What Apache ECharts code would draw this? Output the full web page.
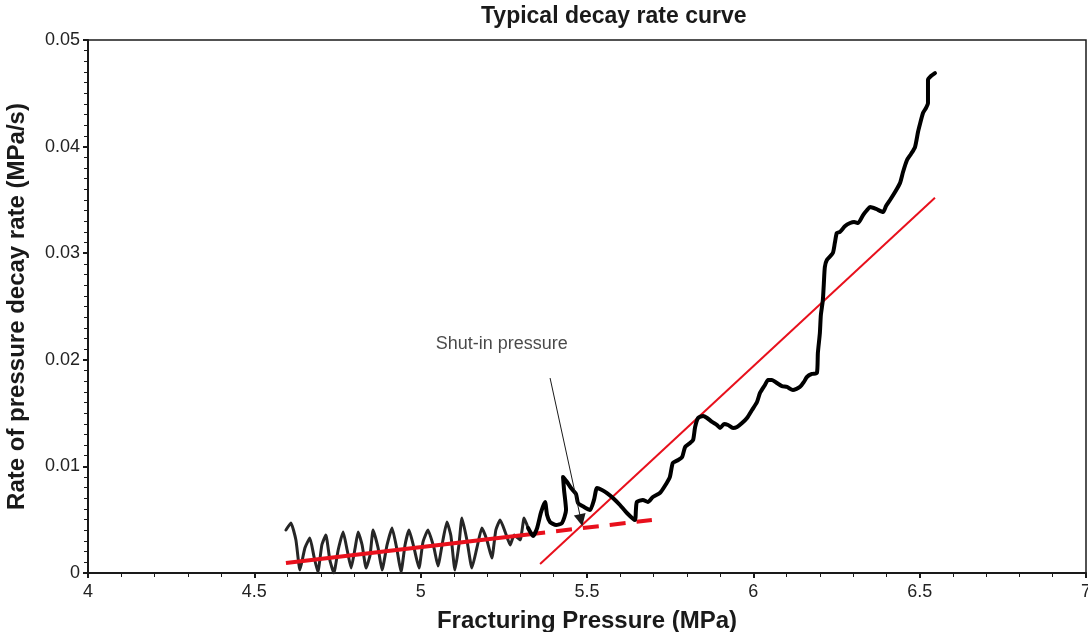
<!DOCTYPE html>
<html>
<head>
<meta charset="utf-8">
<script src="https://cdn.jsdelivr.net/npm/echarts@6/dist/echarts.min.js"></script>
<style>
  html, body { margin: 0; padding: 0; background: #fff; }
  #chart { width: 1088px; height: 632px; }
</style>
</head>
<body>
<div id="chart"></div>
<script>
// Oscillating low-pressure portion of the decay-rate record (pressure MPa, rate MPa/s)
const noisyPressure = [4.595, 4.610, 4.625, 4.637, 4.652, 4.667, 4.679, 4.691, 4.703, 4.715,
  4.727, 4.739, 4.752, 4.767, 4.779, 4.791, 4.803, 4.812, 4.824, 4.836,
  4.848, 4.857, 4.872, 4.884, 4.899, 4.914, 4.929, 4.941, 4.953, 4.965,
  4.980, 4.995, 5.007, 5.022, 5.040, 5.052, 5.067, 5.079, 5.091, 5.103,
  5.115, 5.124, 5.139, 5.154, 5.169, 5.184, 5.199, 5.214, 5.226, 5.239,
  5.254, 5.269, 5.281, 5.299, 5.311, 5.323];
const noisyRate = [0.00403, 0.00469, 0.0031, 0.00028, 0.00235, 0.00328, 0.00159, 0.00009, 0.00263, 0.00356,
  0.00122, 0.0, 0.00216, 0.00385, 0.00216, 0.00047, 0.00235, 0.00385, 0.00263, 0.00047,
  0.00169, 0.00403, 0.00235, 0.00028, 0.00263, 0.00422, 0.00216, 0.00009, 0.00263, 0.00403,
  0.00235, 0.00047, 0.00291, 0.00403, 0.00235, 0.00066, 0.0031, 0.00478, 0.00347, 0.00028,
  0.00263, 0.00516, 0.0031, 0.00047, 0.00235, 0.00422, 0.0031, 0.00141, 0.00403, 0.00497,
  0.00385, 0.00263, 0.00356, 0.0031, 0.00516, 0.00422];

// Rising portion after shut-in
const risePressure = [5.323, 5.338, 5.350, 5.362, 5.374, 5.380, 5.389, 5.407, 5.425, 5.437,
  5.431, 5.428, 5.440, 5.452, 5.467, 5.473, 5.491, 5.509, 5.521, 5.530,
  5.545, 5.560, 5.578, 5.599, 5.620, 5.644, 5.647, 5.650, 5.668, 5.683,
  5.698, 5.719, 5.734, 5.749, 5.758, 5.774, 5.786, 5.795, 5.810, 5.819,
  5.825, 5.834, 5.849, 5.861, 5.876, 5.891, 5.900, 5.912, 5.924, 5.939,
  5.951, 5.966, 5.981, 5.996, 6.011, 6.020, 6.035, 6.044, 6.056, 6.071,
  6.086, 6.101, 6.119, 6.140, 6.152, 6.161, 6.176, 6.191, 6.194, 6.200,
  6.203, 6.209, 6.212, 6.215, 6.221, 6.239, 6.245, 6.251, 6.260, 6.276,
  6.291, 6.303, 6.315, 6.330, 6.342, 6.351, 6.369, 6.390, 6.399, 6.411,
  6.426, 6.441, 6.450, 6.462, 6.474, 6.486, 6.495, 6.501, 6.510, 6.519,
  6.525, 6.525, 6.525, 6.534, 6.546];
const riseRate = [0.00422, 0.00347, 0.00422, 0.00572, 0.00666, 0.00544, 0.00478, 0.0045, 0.00469, 0.00591,
  0.00779, 0.009, 0.00854, 0.00797, 0.00741, 0.00657, 0.00619, 0.00591, 0.00685, 0.00797,
  0.00779, 0.0075, 0.00704, 0.00638, 0.00563, 0.00497, 0.00591, 0.00666, 0.00685, 0.00666,
  0.00713, 0.0075, 0.00816, 0.009, 0.01032, 0.0106, 0.01088, 0.01182, 0.0122, 0.01248,
  0.0137, 0.01454, 0.01473, 0.01454, 0.01417, 0.01388, 0.0136, 0.01398, 0.01388, 0.0136,
  0.0137, 0.01407, 0.01454, 0.01529, 0.01604, 0.01689, 0.01764, 0.01811, 0.01811, 0.01782,
  0.01754, 0.01745, 0.01717, 0.01745, 0.01792, 0.01839, 0.01867, 0.01876, 0.02064, 0.02251,
  0.0242, 0.02561, 0.0272, 0.0287, 0.02936, 0.03002, 0.03096, 0.0319, 0.03199, 0.03255,
  0.03283, 0.03293, 0.03283, 0.03358, 0.03405, 0.03433, 0.03415, 0.03386, 0.03443, 0.03499,
  0.03574, 0.03659, 0.03762, 0.03874, 0.03931, 0.03996, 0.04137, 0.04212, 0.04315, 0.04362,
  0.04409, 0.04531, 0.04625, 0.04662, 0.0469];

// Straight-line fits: pre-closure trend (solid then extrapolated dashed) and post-closure trend
const lowTrendSolid = [[4.595, 0.00094], [5.374, 0.00379]];
const lowTrendDashed = [[5.407, 0.00392], [5.695, 0.00497]];
const highTrend = [[5.359, 0.00084], [6.546, 0.0352]];

// Annotation pointing at the shut-in pressure
const shutInLabel = { text: 'Shut-in pressure', at: [5.244, 0.0215] };
const shutInArrow = [[5.389, 0.01829], [5.482, 0.00497]];

const xTicks = { min: 4, max: 7, step: 0.5 };
const yTicks = { min: 0, max: 0.05, step: 0.01 };

const zip = (a, b) => a.map((v, i) => [v, b[i]]);
const FONT = '"Liberation Sans", Arial, Helvetica, sans-serif';

const chart = echarts.init(document.getElementById('chart'), null, { renderer: 'canvas' });

chart.setOption({
  backgroundColor: '#ffffff',
  animation: false,
  title: {
    text: 'Typical decay rate curve',
    left: 476, top: 0,
    textStyle: { fontFamily: FONT, fontWeight: 'bold', fontSize: 23, color: '#1a1a1a' }
  },
  grid: {
    left: 88, right: 2, top: 40, bottom: 59,
    containLabel: false, outerBoundsMode: 'none',
    show: true, borderColor: '#1a1a1a', borderWidth: 1.5, backgroundColor: 'transparent'
  },
  xAxis: {
    type: 'value', min: xTicks.min, max: xTicks.max, interval: xTicks.step,
    name: 'Fracturing Pressure (MPa)', nameLocation: 'middle', nameGap: 36,
    nameTextStyle: { fontFamily: FONT, fontWeight: 'bold', fontSize: 24, color: '#1a1a1a' },
    axisLine: { show: true, onZero: false, lineStyle: { color: '#1a1a1a', width: 2 } },
    axisTick: { show: true, inside: false, length: 5, lineStyle: { color: '#1a1a1a', width: 2 } },
    minorTick: { show: true, splitNumber: 5, length: 4, lineStyle: { color: '#1a1a1a', width: 1 } },
    splitLine: { show: false },
    axisLabel: { fontFamily: FONT, fontSize: 18, color: '#222', margin: 10 }
  },
  yAxis: {
    type: 'value', min: yTicks.min, max: yTicks.max, interval: yTicks.step,
    name: 'Rate of pressure decay rate (MPa/s)', nameLocation: 'middle', nameGap: 59,
    nameTextStyle: { fontFamily: FONT, fontWeight: 'bold', fontSize: 24, color: '#1a1a1a' },
    axisLine: { show: true, onZero: false, lineStyle: { color: '#1a1a1a', width: 2 } },
    axisTick: { show: true, inside: false, length: 5, lineStyle: { color: '#1a1a1a', width: 2 } },
    minorTick: { show: true, splitNumber: 10, length: 4, lineStyle: { color: '#1a1a1a', width: 1 } },
    splitLine: { show: false },
    axisLabel: { fontFamily: FONT, fontSize: 18, color: '#222', margin: 8 }
  },
  series: [
    {
      name: 'decay rate (oscillating)', type: 'line', data: zip(noisyPressure, noisyRate),
      showSymbol: false, smooth: 0.15, z: 2,
      lineStyle: { color: '#262626', width: 3, join: 'round', cap: 'round' }
    },
    {
      name: 'low trend', type: 'line', data: lowTrendSolid, showSymbol: false, z: 3,
      lineStyle: { color: '#e8101c', width: 4 }
    },
    {
      name: 'low trend extrapolated', type: 'line', data: lowTrendDashed, showSymbol: false, z: 3,
      lineStyle: { color: '#e8101c', width: 4, type: [16, 11] }
    },
    {
      name: 'high trend', type: 'line', data: highTrend, showSymbol: false, z: 3,
      lineStyle: { color: '#e8101c', width: 2 }
    },
    {
      name: 'decay rate', type: 'line', data: zip(risePressure, riseRate),
      showSymbol: false, smooth: 0.2, z: 4,
      lineStyle: { color: '#000000', width: 4, join: 'round', cap: 'round' }
    },
    {
      name: 'shut-in', type: 'scatter', symbol: 'circle', symbolSize: 1, z: 6,
      itemStyle: { color: 'rgba(0,0,0,0)' },
      data: [shutInLabel.at],
      label: {
        show: true, position: 'inside', formatter: shutInLabel.text,
        fontFamily: FONT, fontSize: 18, color: '#1a1a1a'
      },
      markLine: {
        silent: true, animation: false,
        symbol: ['none', 'triangle'], symbolSize: 12, symbolOffset: 0,
        label: { show: false },
        lineStyle: { color: '#1a1a1a', width: 1, type: 'solid' },
        emphasis: { disabled: true },
        data: [[{ coord: shutInArrow[0] }, { coord: shutInArrow[1] }]]
      }
    }
  ]
});
</script>
</body>
</html>
